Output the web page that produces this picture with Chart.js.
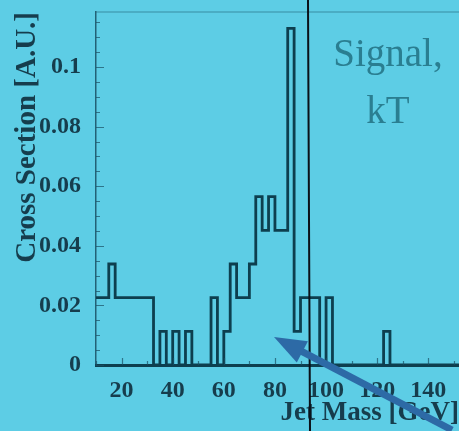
<!DOCTYPE html>
<html>
<head>
<meta charset="utf-8">
<script src="https://cdn.jsdelivr.net/npm/chart.js@4.4.1/dist/chart.umd.min.js"></script>
<style>
  body { margin: 0; background: #5dcde5; overflow: hidden; }
  .main_plot { position: relative; width: 459px; height: 431px; }
  .main_plot_label {
    position: absolute; left: 318px; top: 24px; width: 140px;
    text-align: center; font: 39px "Liberation Serif", serif;
    line-height: 57px; color: #2a7e91;
  }
</style>
</head>
<body>
<div class="main_plot">
  <canvas class="main_plot_canvas"></canvas>
  <div class="main_plot_label">Signal,<br>kT</div>
</div>
<script>
// histogram: left edge of each step and the cross section it holds until the next edge
const binEdges = [10, 15, 17.5, 32.5, 35, 37.5, 40, 42.5, 45, 47.5,
  55, 57.5, 60, 62.5, 65, 70, 72.5, 75, 77.5, 80,
  85, 87.5, 90, 97.5, 100, 102.5, 122.5, 125, 152];
const crossSection = [0.0226, 0.0339, 0.0226, 0, 0.0113, 0, 0.0113, 0, 0.0113, 0,
  0.0226, 0, 0.0113, 0.0339, 0.0226, 0.0339, 0.0565, 0.0452, 0.0565, 0.0452,
  0.113, 0.0113, 0.0226, 0, 0.0226, 0, 0.0113, 0, 0];
const xTickValues = [20, 40, 60, 80, 100, 120, 140];
const yTickValues = [0, 0.02, 0.04, 0.06, 0.08, 0.1];
const yTickLabels = ["0", "0.02", "0.04", "0.06", "0.08", "0.1"];

const textColor = "#163d4d";
const lineColor = "#0d3f4f";
const serif = "'Liberation Serif', 'DejaVu Serif', serif";

// inward ticks, faint top frame, the pointer line and the arrow from the photo
const frameTicks = {
  id: "frameTicks",
  afterDatasetsDraw(chart) {
    const { ctx, chartArea, scales: { x, y } } = chart;
    ctx.save();
    ctx.strokeStyle = "rgba(30, 100, 120, 0.6)";
    ctx.lineWidth = 1.2;
    ctx.beginPath();
    ctx.moveTo(chartArea.left, chartArea.top);
    ctx.lineTo(chartArea.right, chartArea.top);
    ctx.stroke();

    ctx.strokeStyle = "rgba(25, 80, 100, 0.7)";
    ctx.beginPath();
    for (let v = 0; v <= y.max; v += 0.005) {
      const py = Math.round(y.getPixelForValue(v)) + 0.5;
      const major = Math.abs(v / 0.02 - Math.round(v / 0.02)) < 1e-6;
      ctx.moveTo(chartArea.left, py);
      ctx.lineTo(chartArea.left + (major ? 8 : 4), py);
    }
    for (let v = 10; v <= x.max; v += 10) {
      const px = Math.round(x.getPixelForValue(v)) + 0.5;
      const major = v % 20 === 0;
      ctx.moveTo(px, chartArea.bottom);
      ctx.lineTo(px, chartArea.bottom - (major ? 7 : 4));
    }
    ctx.stroke();
    ctx.restore();
  },
  afterDraw(chart) {
    const { ctx } = chart;
    ctx.save();
    // black pointer line across the slide
    ctx.strokeStyle = "#0b1118";
    ctx.lineWidth = 2;
    ctx.beginPath();
    ctx.moveTo(308, 0);
    ctx.lineTo(309, 220);
    ctx.lineTo(310, 431);
    ctx.stroke();

    // blue arrow
    const tip = { x: 274, y: 337 };
    const tail = { x: 452, y: 430 };
    const ang = Math.atan2(tail.y - tip.y, tail.x - tip.x);
    const headLen = 32, headHalf = 12;
    const bx = tip.x + Math.cos(ang) * headLen, by = tip.y + Math.sin(ang) * headLen;
    ctx.strokeStyle = "#2d6aa6";
    ctx.fillStyle = "#2d6aa6";
    ctx.lineWidth = 7;
    ctx.beginPath();
    ctx.moveTo(bx - Math.cos(ang) * 4, by - Math.sin(ang) * 4);
    ctx.lineTo(tail.x, tail.y);
    ctx.stroke();
    ctx.beginPath();
    ctx.moveTo(tip.x, tip.y);
    ctx.lineTo(bx - Math.sin(ang) * headHalf, by + Math.cos(ang) * headHalf);
    ctx.lineTo(bx + Math.sin(ang) * headHalf, by - Math.cos(ang) * headHalf);
    ctx.closePath();
    ctx.fill();
    ctx.restore();
  }
};

const getCanvas = document.querySelector(".main_plot_canvas");
new Chart(getCanvas, {
  type: "line",
  data: {
    datasets: [{
      data: binEdges.map((edge, i) => ({ x: edge, y: crossSection[i] })),
      stepped: "before",
      borderColor: lineColor,
      borderWidth: 2.8,
      pointRadius: 0,
      fill: false
    }]
  },
  options: {
    responsive: true,
    maintainAspectRatio: false,
    animation: false,
    layout: { padding: { top: 12, left: 0, right: 0, bottom: 0 } },
    plugins: { legend: { display: false }, tooltip: { enabled: false } },
    scales: {
      x: {
        type: "linear",
        min: 10,
        max: 152,
        afterBuildTicks: (scale) => { scale.ticks = xTickValues.map(v => ({ value: v })); },
        afterFit: (scale) => { scale.height = 66; },
        grid: { display: false },
        border: { display: true, width: 3, color: lineColor },
        ticks: {
          color: textColor, padding: 3, maxRotation: 0, autoSkip: false,
          font: { family: serif, size: 24, weight: "bold" }
        },
        title: {
          display: true, text: "Jet Mass [GeV]", align: "end", color: textColor,
          padding: { top: 0, bottom: 2 },
          font: { family: serif, size: 27, weight: "bold" }
        }
      },
      y: {
        min: 0,
        max: 0.1185,
        afterBuildTicks: (scale) => { scale.ticks = yTickValues.map(v => ({ value: v })); },
        afterFit: (scale) => { scale.width = 96; scale.paddingTop = 0; scale.paddingBottom = 0; },
        grid: { display: false },
        border: { display: true, width: 1.5, color: "rgba(20, 70, 90, 0.8)" },
        ticks: {
          color: textColor, padding: 7,
          font: { family: serif, size: 24, weight: "bold" },
          callback: (v) => yTickLabels[yTickValues.indexOf(v)]
        },
        title: {
          display: true, text: "Cross Section [A.U.]", align: "end", color: textColor,
          padding: { top: 10, bottom: 0 },
          font: { family: serif, size: 29, weight: "bold" }
        }
      }
    }
  },
  plugins: [frameTicks]
});
</script>
</body>
</html>
